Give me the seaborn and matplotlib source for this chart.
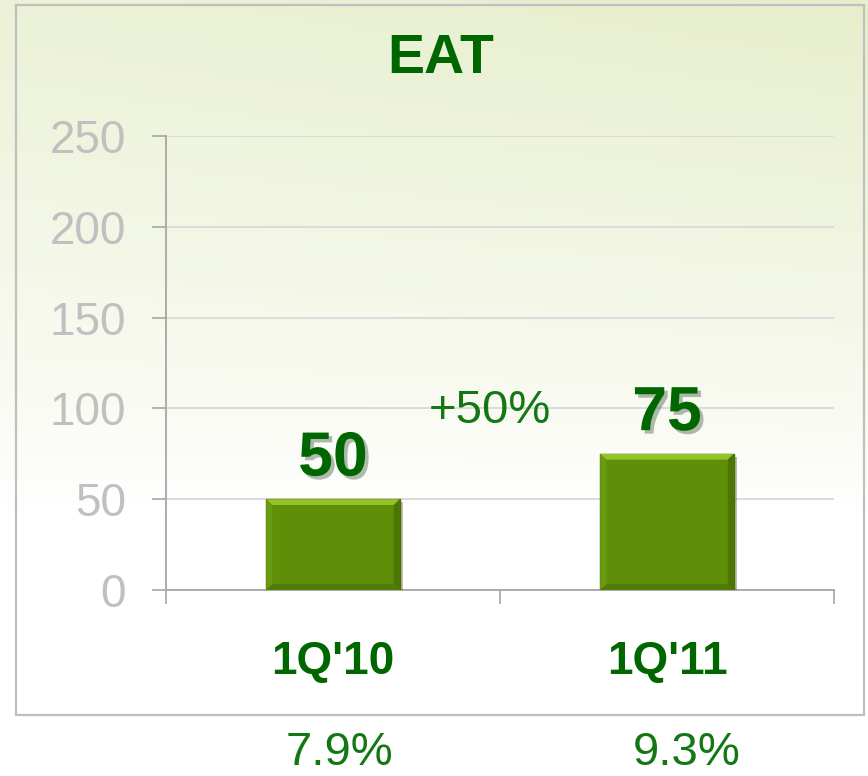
import numpy as np
import pandas as pd
import seaborn as sns
import matplotlib.pyplot as plt
import matplotlib.patheffects as pe
from matplotlib.patches import Rectangle, Polygon
import matplotlib.transforms as mtransforms

# data
quarters = ["1Q'10", "1Q'11"]
eat = [50, 75]
margins = ["7.9%", "9.3%"]
growth = "+50%"
yticks = [0, 50, 100, 150, 200, 250]

sns.set_style("white")
plt.rcParams['font.family'] = ['Liberation Sans', 'DejaVu Sans']

dark_green = "#006600"
gray_txt = "#c0c0c0"
axis_gray = "#a6a6a6"

fig = plt.figure(figsize=(8.68, 7.76), dpi=100)
fig.patch.set_facecolor("white")

# pale green background wash fading to white towards the bottom
bg = fig.add_axes([0, 0, 1, 1], zorder=-5)
yy, xx = np.mgrid[0:1:300j, 0:1:300j]
w = np.clip((1 - yy - 0.35) / 0.65, 0, 1) ** 0.8 * (0.8 + 0.2 * xx)
base = np.array([0.905, 0.935, 0.80])
img = 1 - w[..., None] * (1 - base)
bg.imshow(img, extent=[0, 1, 0, 1], aspect="auto", origin="upper")
bg.set_xlim(0, 1)
bg.set_ylim(0, 1)
bg.axis("off")

# outer frame
fig.patches.append(Rectangle((16 / 868, 1 - 715 / 776), 848 / 868, 710 / 776,
                             transform=fig.transFigure, fill=False,
                             edgecolor="#bfbfbf", lw=1.6, zorder=0))

ax = fig.add_axes([166 / 868, 1 - 590 / 776, 668 / 868, 454 / 776])
ax.set_facecolor("none")

df = pd.DataFrame({"quarter": quarters, "eat": eat})
sns.barplot(data=df, x="quarter", y="eat", color="#5f8e08", saturation=1, width=0.4,
            edgecolor="#4a6e04", linewidth=1.0, ax=ax, zorder=3)

# bevel look on bars
for p in ax.patches:
    x0, w_, h = p.get_x(), p.get_width(), p.get_height()
    dx, dy = 0.018, 3.2
    top = Polygon([[x0, h], [x0 + w_, h], [x0 + w_ - dx, h - dy], [x0 + dx, h - dy]],
                  closed=True, facecolor="#93c42c", edgecolor="none", zorder=4)
    right = Polygon([[x0 + w_, h], [x0 + w_, 0], [x0 + w_ - dx, dy], [x0 + w_ - dx, h - dy]],
                    closed=True, facecolor="#4c7604", edgecolor="none", zorder=4)
    bottom = Polygon([[x0, 0], [x0 + w_, 0], [x0 + w_ - dx, dy], [x0 + dx, dy]],
                     closed=True, facecolor="#507c06", edgecolor="none", zorder=4)
    left = Polygon([[x0, 0], [x0, h], [x0 + dx, h - dy], [x0 + dx, dy]],
                   closed=True, facecolor="#6a9a10", edgecolor="none", zorder=4)
    for poly in (top, right, bottom, left):
        ax.add_patch(poly)
    p.set_path_effects([pe.SimplePatchShadow(offset=(2, -2), alpha=0.3), pe.Normal()])

ax.set_xlim(-0.5, 1.5)
ax.set_ylim(0, 250)
ax.set_yticks(yticks)
ax.set_yticklabels([str(t) for t in yticks], fontsize=33, color=gray_txt)
ax.tick_params(axis="y", length=10, width=1.2, color=axis_gray, pad=19, direction="out", left=True)

ax.set_xticks(range(len(quarters)))
ax.set_xticklabels(quarters, fontsize=33, fontweight="bold", color=dark_green)
ax.tick_params(axis="x", which="major", length=0, pad=36)
ax.set_xticks([-0.5, 0.5, 1.5], minor=True)
ax.tick_params(axis="x", which="minor", length=10, width=1.2, color=axis_gray, direction="out", bottom=True)

ax.yaxis.grid(True, color="#d9d9d9", lw=1.3, zorder=0)
ax.set_axisbelow(True)
for s in ["top", "right"]:
    ax.spines[s].set_visible(False)
for s in ["left", "bottom"]:
    ax.spines[s].set_color(axis_gray)
    ax.spines[s].set_linewidth(1.3)
ax.set_xlabel("")
ax.set_ylabel("")

# value labels over bars
for i, v in enumerate(eat):
    ax.annotate(str(v), (i, v), xytext=(0, 17), textcoords="offset points",
                ha="center", va="baseline", fontsize=45, fontweight="bold",
                color=dark_green, zorder=6,
                path_effects=[pe.SimplePatchShadow(offset=(2.5, -2.5), alpha=0.3), pe.Normal()])

ax.text(0.47, 92, growth, ha="center", va="baseline", fontsize=34, color="#137813")

# margins under the frame
trans = mtransforms.blended_transform_factory(ax.transData, fig.transFigure)
for i, m in enumerate(margins):
    ax.text(i + 0.02 + 0.04 * i, 1 - 765 / 776, m, transform=trans, ha="center",
            va="baseline", fontsize=34, color="#137813", clip_on=False)

fig.text(441 / 868, 1 - 59 / 776, "EAT", ha="center", va="center", fontsize=40,
         fontweight="bold", color=dark_green)

fig.savefig("out.png", dpi=100)
